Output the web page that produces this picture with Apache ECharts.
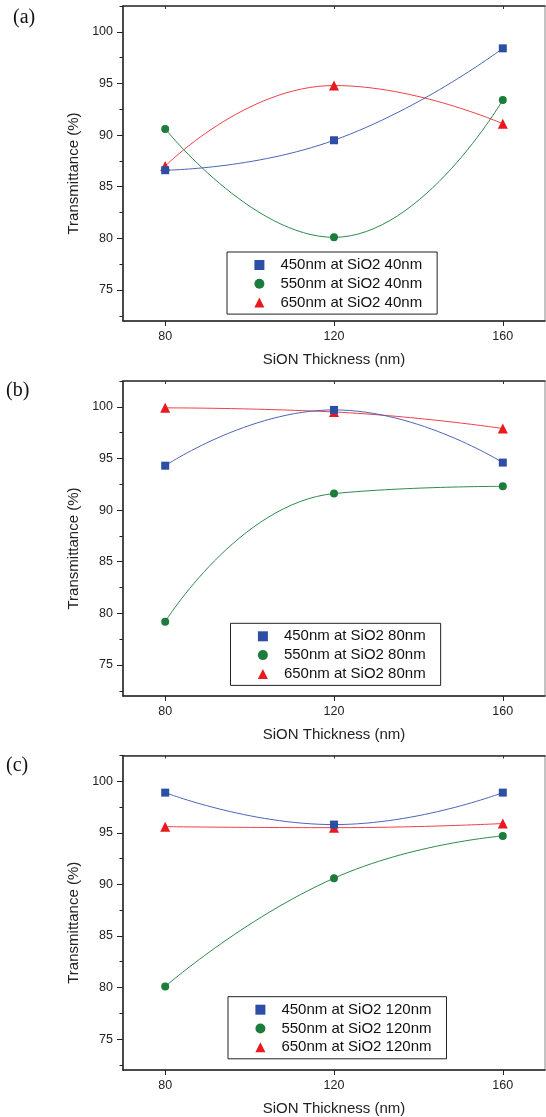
<!DOCTYPE html>
<html>
<head>
<meta charset="utf-8">
<script src="https://cdn.jsdelivr.net/npm/echarts@6/dist/echarts.min.js"></script>
<style>
  html, body { margin: 0; padding: 0; background: #fff; }
  #chart { width: 546px; height: 1117px; }
</style>
</head>
<body>
<div id="chart"></div>
<script>
// SiON thickness (nm) on the x axis
const thickness = [80, 120, 160];
const panelTags = ['(a)', '(b)', '(c)'];
const sio2 = ['40nm', '80nm', '120nm'];
const yTicks = [75, 80, 85, 90, 95, 100];
const yMinorTicks = [72.5, 77.5, 82.5, 87.5, 92.5, 97.5, 102.5];

// transmittance (%)
const a450 = [86.6, 89.5, 98.4];
const a550 = [90.6, 80.1, 93.4];
const a650 = [87.0, 94.8, 91.1];
const b450 = [94.3, 99.7, 94.6];
const b550 = [79.2, 91.6, 92.3];
const b650 = [99.9, 99.5, 97.9];
const c450 = [98.9, 95.8, 98.9];
const c550 = [80.1, 90.6, 94.7];
const c650 = [95.6, 95.5, 95.9];

const panelData = [[a450, a550, a650], [b450, b550, b650], [c450, c550, c650]];
const waves = ['450nm', '550nm', '650nm'];

const colors = ['#2c4ea4', '#1c7c3c', '#e8191f'];
const lineColors = ['#4a66b8', '#2f8a4c', '#ee4048'];
const symbols = ['rect', 'circle', 'triangle'];
const symbolSizes = [8, 8, 10];

const font = 'Liberation Sans, Arial, sans-serif';
const gridTops = [6, 381, 755.5];
const legendPos = [[227, 252], [230.5, 623.3], [228, 996.7]];
const tagPos = [[13, 19], [6, 392], [6, 767]];

const chart = echarts.init(document.getElementById('chart'));

const grids = [], xAxes = [], yAxes = [], series = [], legends = [], graphics = [];

panelData.forEach((rows, p) => {
  grids.push({
    left: 123, top: gridTops[p], width: 422, height: 315,
    show: true, borderColor: '#888', borderWidth: 1, backgroundColor: 'transparent'
  });
  // bottom x axis
  xAxes.push({
    type: 'value', gridIndex: p, position: 'bottom', min: 70, max: 170,
    splitLine: { show: false },
    axisLine: { show: true, lineStyle: { color: '#222', width: 1.5 } },
    axisTick: { show: true, inside: false, length: 5, customValues: thickness, lineStyle: { color: '#222' } },
    axisLabel: { show: true, customValues: thickness, margin: 9, color: '#222', fontSize: 12.5, fontFamily: font },
    name: 'SiON Thickness (nm)', nameLocation: 'middle', nameGap: 31,
    nameTextStyle: { color: '#222', fontSize: 15, fontFamily: font }
  });
  // top x axis (frame + small inner ticks)
  xAxes.push({
    type: 'value', gridIndex: p, position: 'top', min: 70, max: 170,
    splitLine: { show: false },
    axisLine: { show: true, lineStyle: { color: '#333', width: 1.5 } },
    axisTick: { show: true, inside: true, length: 3, customValues: thickness, lineStyle: { color: '#333' } },
    axisLabel: { show: false }
  });
  // left y axis, major ticks and labels
  yAxes.push({
    type: 'value', gridIndex: p, position: 'left', min: 72, max: 102.5,
    splitLine: { show: false },
    axisLine: { show: true, lineStyle: { color: '#222', width: 1.5 } },
    axisTick: { show: true, inside: false, length: 6, customValues: yTicks, lineStyle: { color: '#222' } },
    axisLabel: { show: true, customValues: yTicks, margin: 10, color: '#222', fontSize: 12.5, fontFamily: font },
    name: 'Transmittance (%)', nameLocation: 'middle', nameGap: 39,
    nameTextStyle: { color: '#222', fontSize: 15, fontFamily: font, padding: [0, 20, 0, 0] }
  });
  // left y axis, minor ticks
  yAxes.push({
    type: 'value', gridIndex: p, position: 'left', offset: 0, min: 72, max: 102.5,
    splitLine: { show: false },
    axisLine: { show: false },
    axisTick: { show: true, inside: false, length: 3.5, customValues: yMinorTicks, lineStyle: { color: '#222' } },
    axisLabel: { show: false }
  });

  const names = waves.map(w => w + ' at SiO2 ' + sio2[p]);
  rows.forEach((vals, k) => {
    series.push({
      name: names[k],
      type: 'line',
      xAxisIndex: 2 * p,
      yAxisIndex: 2 * p,
      smooth: 0.5,
      symbol: symbols[k],
      symbolSize: symbolSizes[k],
      showSymbol: true,
      itemStyle: { color: colors[k] },
      lineStyle: { color: lineColors[k], width: 1 },
      data: thickness.map((x, i) => [x, vals[i]]),
      z: 3 - k
    });
  });

  legends.push({
    orient: 'vertical',
    left: legendPos[p][0], top: legendPos[p][1],
    padding: [5.5, 15, 4, 27.4],
    itemWidth: 10, itemHeight: 10, itemGap: 3.8,
    borderColor: '#222', borderWidth: 1, backgroundColor: '#fff',
    selectedMode: false,
    textStyle: { color: '#111', fontSize: 15, fontFamily: font, lineHeight: 15, padding: [0, 0, 0, 11] },
    data: names.map((n, k) => ({ name: n, icon: symbols[k], itemStyle: { color: colors[k] } }))
  });

  graphics.push({
    type: 'text', left: tagPos[p][0], top: tagPos[p][1] - 11,
    style: { text: panelTags[p], fill: '#111', font: '20px "Liberation Serif", "Times New Roman", serif' }
  });
});

chart.setOption({
  animation: false,
  backgroundColor: '#fff',
  grid: grids,
  xAxis: xAxes,
  yAxis: yAxes,
  legend: legends,
  series: series,
  graphic: graphics
});
</script>
</body>
</html>
